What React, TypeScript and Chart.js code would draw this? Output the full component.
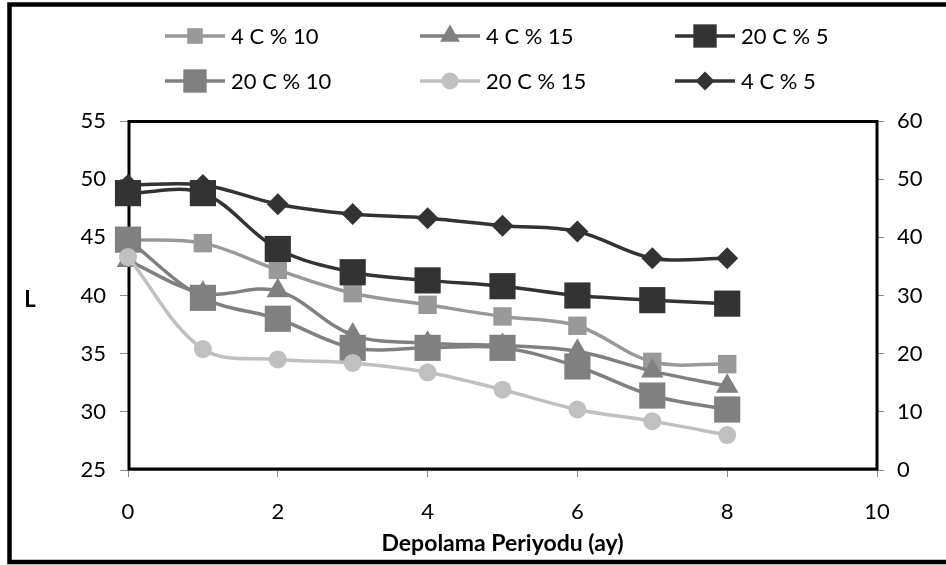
import React, { useEffect, useRef } from "react";
import { Chart, registerables } from "chart.js";

Chart.register(...registerables);

const months = [0, 1, 2, 3, 4, 5, 6, 7, 8];
const seriesNames = ["4 C % 10", "4 C % 15", "20 C % 5", "20 C % 10", "20 C % 15", "4 C % 5"];
const c4p10 = [44.8, 44.5, 42.2, 40.2, 39.2, 38.2, 37.4, 34.3, 34.1];
const c4p15 = [43.0, 40.2, 40.4, 36.6, 35.9, 35.7, 35.2, 33.5, 32.2];
const c20p5 = [48.8, 48.8, 44.0, 42.0, 41.3, 40.8, 40.0, 39.6, 39.3];
const c20p10 = [44.8, 39.8, 38.0, 35.5, 35.5, 35.5, 33.9, 31.4, 30.2];
const c20p15 = [43.3, 35.4, 34.5, 34.2, 33.4, 31.9, 30.2, 29.2, 28.0];
const c4p5 = [49.0, 49.0, 45.7, 44.0, 43.3, 42.0, 41.0, 36.4, 36.4]; // secondary axis
const xTicks = [0, 2, 4, 6, 8, 10];
const leftTicks = [25, 30, 35, 40, 45, 50, 55];
const rightTicks = [0, 10, 20, 30, 40, 50, 60];
const xTitle = "Depolama Periyodu (ay)";
const yTitle = "L";

const FONT = "Lato, 'Open Sans', sans-serif";

type Style = { color: string; shape: string; r: number; lr: number; axis: string };
const styles: Style[] = [
  { color: "#999999", shape: "rect", r: 13, lr: 11, axis: "y" },
  { color: "#808080", shape: "triangle", r: 13, lr: 11.5, axis: "y" },
  { color: "#333333", shape: "rect", r: 18.5, lr: 16.5, axis: "y" },
  { color: "#808080", shape: "rect", r: 18.5, lr: 16.5, axis: "y" },
  { color: "#c0c0c0", shape: "circle", r: 9, lr: 8.5, axis: "y" },
  { color: "#333333", shape: "rectRot", r: 11, lr: 9.5, axis: "y2" },
];
const seriesData = [c4p10, c4p15, c20p5, c20p10, c20p15, c4p5];

const legendPos = [
  { x: 195, y: 36 },
  { x: 450, y: 36 },
  { x: 705, y: 36 },
  { x: 195, y: 81 },
  { x: 450, y: 81 },
  { x: 705, y: 81 },
];

function drawMarker(ctx: CanvasRenderingContext2D, shape: string, x: number, y: number, r: number) {
  ctx.beginPath();
  if (shape === "rect") {
    const s = Math.SQRT1_2 * r;
    ctx.rect(x - s, y - s, 2 * s, 2 * s);
  } else if (shape === "triangle") {
    ctx.moveTo(x, y - r);
    ctx.lineTo(x + Math.sin((2 * Math.PI) / 3) * r, y + 0.5 * r);
    ctx.lineTo(x - Math.sin((2 * Math.PI) / 3) * r, y + 0.5 * r);
    ctx.closePath();
  } else if (shape === "circle") {
    ctx.arc(x, y, r, 0, Math.PI * 2);
  } else {
    ctx.moveTo(x - r, y);
    ctx.lineTo(x, y - r);
    ctx.lineTo(x + r, y);
    ctx.lineTo(x, y + r);
    ctx.closePath();
  }
  ctx.fill();
}

const decorPlugin = {
  id: "decor",
  beforeDatasetsDraw(chart: any) {
    const { ctx, chartArea: a } = chart;
    ctx.save();
    ctx.strokeStyle = "#000";
    ctx.lineWidth = 3;
    ctx.strokeRect(a.left + 1, a.top + 0.5, a.right - a.left - 1, a.bottom - a.top - 1.5);
    ctx.restore();
  },
  afterDraw(chart: any) {
    const { ctx, chartArea: a } = chart;
    ctx.save();
    // outer frame
    ctx.strokeStyle = "#000";
    ctx.lineWidth = 4.5;
    ctx.strokeRect(9.5, 4.5, 946, 557.5);
    // titles
    ctx.fillStyle = "#000";
    ctx.font = `bold 23px ${FONT}`;
    ctx.textAlign = "center";
    ctx.textBaseline = "middle";
    ctx.fillText(xTitle, (a.left + a.right) / 2, 544);
    ctx.font = `bold 22px ${FONT}`;
    ctx.fillText(yTitle, 30, 300);
    // legend
    ctx.font = `22px ${FONT}`;
    ctx.textAlign = "left";
    chart.data.datasets.forEach((ds: any, i: number) => {
      const p = legendPos[i];
      const st = styles[i];
      ctx.strokeStyle = st.color;
      ctx.lineWidth = 3.5;
      ctx.beginPath();
      ctx.moveTo(p.x - 30, p.y);
      ctx.lineTo(p.x + 30, p.y);
      ctx.stroke();
      ctx.fillStyle = st.color;
      drawMarker(ctx, st.shape, p.x, p.y, st.lr);
      ctx.fillStyle = "#000";
      ctx.fillText(ds.label, p.x + 36, p.y + 1);
    });
    ctx.restore();
  },
};

export default function App() {
  const ref = useRef<HTMLCanvasElement | null>(null);
  useEffect(() => {
    if (!ref.current) return;
    const n = seriesNames.length;
    const chart = new Chart(ref.current, {
      type: "line",
      data: {
        datasets: seriesNames.map((name, i) => ({
          label: name,
          data: months.map((m, j) => ({ x: m, y: seriesData[i][j] })),
          borderColor: styles[i].color,
          backgroundColor: styles[i].color,
          pointBackgroundColor: styles[i].color,
          pointBorderWidth: 0,
          pointStyle: styles[i].shape as any,
          pointRadius: styles[i].r,
          borderWidth: 3.5,
          tension: 0.35,
          yAxisID: styles[i].axis,
          order: styles[i].axis === "y2" ? 100 : n - i,
          clip: false as any,
        })),
      },
      plugins: [decorPlugin],
      options: {
        animation: false,
        responsive: false,
        devicePixelRatio: 1,
        events: [],
        layout: { padding: { top: 121, left: 0, right: 0, bottom: 0 } },
        plugins: { legend: { display: false }, tooltip: { enabled: false } },
        scales: {
          x: {
            type: "linear",
            min: 0,
            max: 10,
            afterFit: (s: any) => { s.height = 95; },
            afterBuildTicks: (s: any) => { s.ticks = xTicks.map((v) => ({ value: v })); },
            ticks: { color: "#000", font: { family: FONT, size: 22 }, padding: 22, maxRotation: 0 },
            grid: { drawOnChartArea: false, color: "#888", tickLength: 7, lineWidth: 1 },
            border: { color: "#888", width: 1 },
          },
          y: {
            position: "left",
            min: 25,
            max: 55,
            afterFit: (s: any) => { s.width = 128; },
            afterBuildTicks: (s: any) => { s.ticks = leftTicks.map((v) => ({ value: v })); },
            ticks: { color: "#000", font: { family: FONT, size: 22 }, padding: 14 },
            grid: { drawOnChartArea: false, color: "#888", tickLength: 8, lineWidth: 1 },
            border: { color: "#888", width: 1 },
          },
          y2: {
            position: "right",
            min: 0,
            max: 60,
            afterFit: (s: any) => { s.width = 69; },
            afterBuildTicks: (s: any) => { s.ticks = rightTicks.map((v) => ({ value: v })); },
            ticks: { color: "#000", font: { family: FONT, size: 22 }, padding: 13 },
            grid: { drawOnChartArea: false, color: "#888", tickLength: 7, lineWidth: 1 },
            border: { color: "#888", width: 1 },
          },
        },
      },
    });
    return () => chart.destroy();
  }, []);
  return (
    <div style={{ position: "fixed", left: 0, top: 0, width: 946, height: 565, background: "#fff" }}>
      <canvas ref={ref} width={946} height={565} style={{ display: "block" }} />
    </div>
  );
}
